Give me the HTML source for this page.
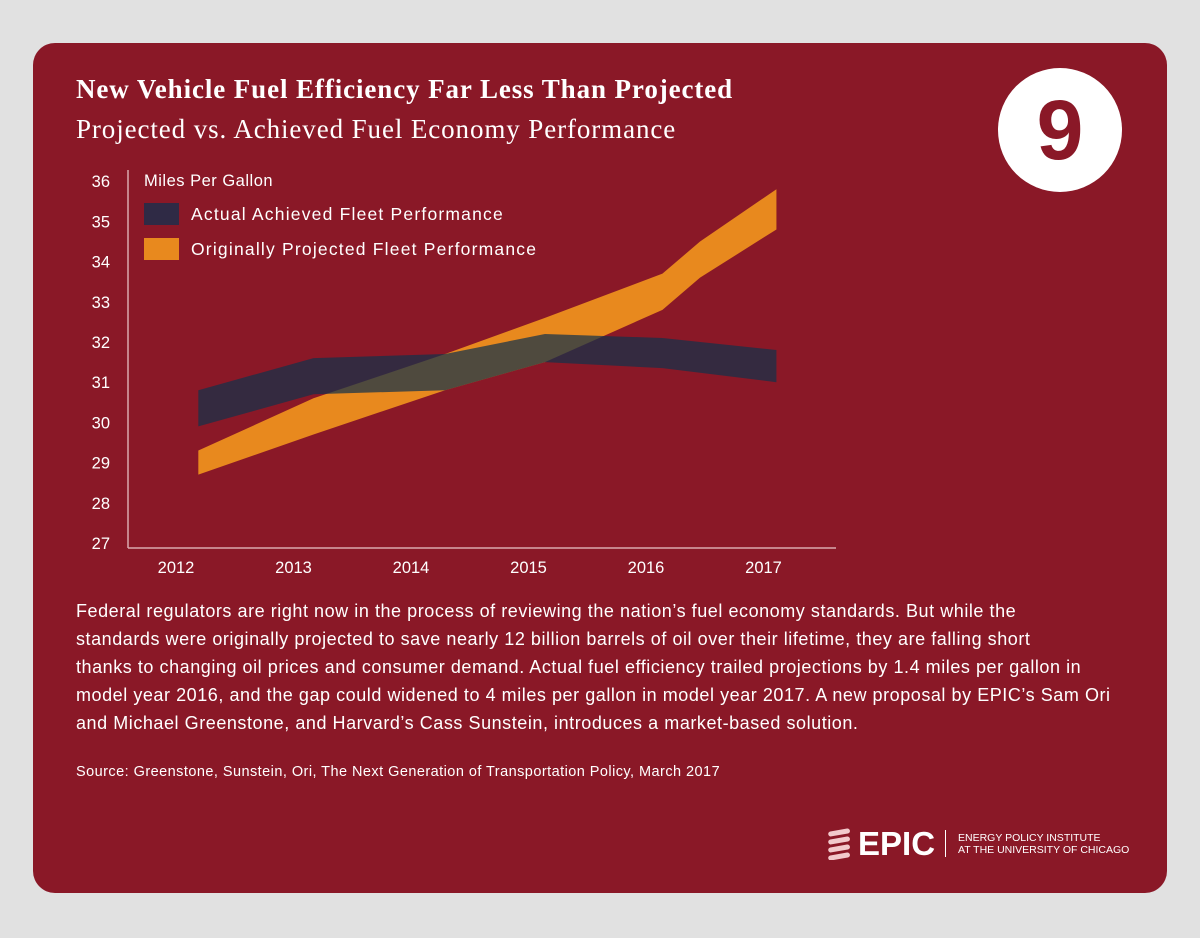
<!DOCTYPE html>
<html><head><meta charset="utf-8"><style>
body{margin:0;width:1200px;height:938px;background:#e1e1e1;font-family:"Liberation Sans",sans-serif;position:relative;overflow:hidden}
.card{position:absolute;left:33px;top:43px;width:1134px;height:850px;background:#8a1827;border-radius:22px}
.t{position:absolute;color:#fff;white-space:nowrap}
</style></head><body>
<div class="card"></div>
<div class="t" style="left:76px;top:74px;font:bold 27px 'Liberation Serif',serif;letter-spacing:0.9px">New Vehicle Fuel Efficiency Far Less Than Projected</div>
<div class="t" style="left:76px;top:114px;font:27px 'Liberation Serif',serif;letter-spacing:0.9px">Projected vs. Achieved Fuel Economy Performance</div>
<div style="position:absolute;left:998px;top:68px;width:124px;height:124px;border-radius:50%;background:#fff;color:#8a1827;font:bold 84px 'Liberation Sans',sans-serif;text-align:center;line-height:124px">9</div>
<svg id="chart" width="1200" height="600" style="position:absolute;left:0;top:0"></svg>
<div class="t" style="left:76px;top:597px;font-size:18px;line-height:28px;letter-spacing:0.55px">Federal regulators are right now in the process of reviewing the nation’s fuel economy standards. But while the<br>standards were originally projected to save nearly 12 billion barrels of oil over their lifetime, they are falling short<br>thanks to changing oil prices and consumer demand. Actual fuel efficiency trailed projections by 1.4 miles per gallon in<br>model year 2016, and the gap could widened to 4 miles per gallon in model year 2017. A new proposal by EPIC’s Sam Ori<br>and Michael Greenstone, and Harvard’s Cass Sunstein, introduces a market-based solution.</div>
<div class="t" style="left:76px;top:764px;font-size:14.5px;letter-spacing:0.45px">Source: Greenstone, Sunstein, Ori, The Next Generation of Transportation Policy, March 2017</div>
<div style="position:absolute;left:826px;top:826px;width:300px;height:36px">
<svg width="28" height="32" style="position:absolute;left:0;top:2px"><g fill="#f2c9cc"><rect x="2" y="2" width="22" height="5" rx="2.5" transform="rotate(-10 13 4)"/><rect x="2" y="10" width="22" height="5" rx="2.5" transform="rotate(-10 13 12)"/><rect x="2" y="18" width="22" height="5" rx="2.5" transform="rotate(-10 13 20)"/><rect x="2" y="26" width="22" height="5" rx="2.5" transform="rotate(-10 13 28)"/></g></svg>
<div class="t" style="left:32px;top:-1px;font:bold 33px 'Liberation Sans',sans-serif">EPIC</div>
<div style="position:absolute;left:119px;top:4px;width:1px;height:27px;background:#fff"></div>
<div class="t" style="left:132px;top:6px;font-size:10.5px;line-height:12px">ENERGY POLICY INSTITUTE<br>AT THE UNIVERSITY OF CHICAGO</div>
</div>
<script>
const yTicks=[27,28,29,30,31,32,33,34,35,36];
const years=[2012,2013,2014,2015,2016,2017];
const projX=[2012.19,2013.17,2014.29,2015.14,2016.14,2016.46,2017.11];
const projTop=[29.3,30.6,31.7,32.6,33.7,34.5,35.8];
const projBot=[28.7,29.7,30.8,31.5,32.8,33.6,34.8];
const actX=[2012.19,2013.17,2014.29,2015.14,2016.14,2017.11];
const actTop=[30.8,31.6,31.7,32.2,32.1,31.8];
const actBot=[29.9,30.7,30.8,31.5,31.35,31.0];
const NS='http://www.w3.org/2000/svg';
const svg=document.getElementById('chart');
const x=v=>176+(v-2012)*117.5;
const y=v=>543-(v-27)*40.2;
function mk(t,a){const e=document.createElementNS(NS,t);for(const k in a)e.setAttribute(k,a[k]);svg.appendChild(e);return e;}
let e=mk('line',{x1:128,y1:170,x2:128,y2:548,stroke:'#d9a9ae','stroke-width':1.5});


e=mk('line',{x1:128,y1:548,x2:836,y2:548,stroke:'#d9a9ae','stroke-width':1.5});


yTicks.forEach(v=>{const t=mk('text',{x:110,y:y(v)+6,fill:'#fff','font-size':16.5,'text-anchor':'end','font-family':'Liberation Sans'});t.textContent=v;

});
years.forEach(v=>{const t=mk('text',{x:x(v),y:573,fill:'#fff','font-size':16.5,'text-anchor':'middle','font-family':'Liberation Sans'});t.textContent=v;

});
function band(xs,top,bot,fill,op,name){
 let pts=xs.map((v,i)=>x(v)+','+y(top[i]));
 for(let i=xs.length-1;i>=0;i--)pts.push(x(xs[i])+','+y(bot[i]));
 const p=mk('polygon',{points:pts.join(' '),fill:fill,'fill-opacity':op});
 
 
}
band(projX,projTop,projBot,'#e8891e',1,'projected-band');
band(actX,actTop,actBot,'#14324b',0.72,'actual-band');
let t=mk('text',{x:144,y:186,fill:'#fff','font-size':16.5,'font-family':'Liberation Sans','letter-spacing':0.5});t.textContent='Miles Per Gallon';


e=mk('rect',{x:144,y:203,width:35,height:22,fill:'#2f2a45'});


e=mk('rect',{x:144,y:238,width:35,height:22,fill:'#e8891e'});


t=mk('text',{x:191,y:220,fill:'#fff','font-size':17.5,'font-family':'Liberation Sans','letter-spacing':1.2});t.textContent='Actual Achieved Fleet Performance';


t=mk('text',{x:191,y:255,fill:'#fff','font-size':17.5,'font-family':'Liberation Sans','letter-spacing':1.2});t.textContent='Originally Projected Fleet Performance';


</script>
</body></html>
